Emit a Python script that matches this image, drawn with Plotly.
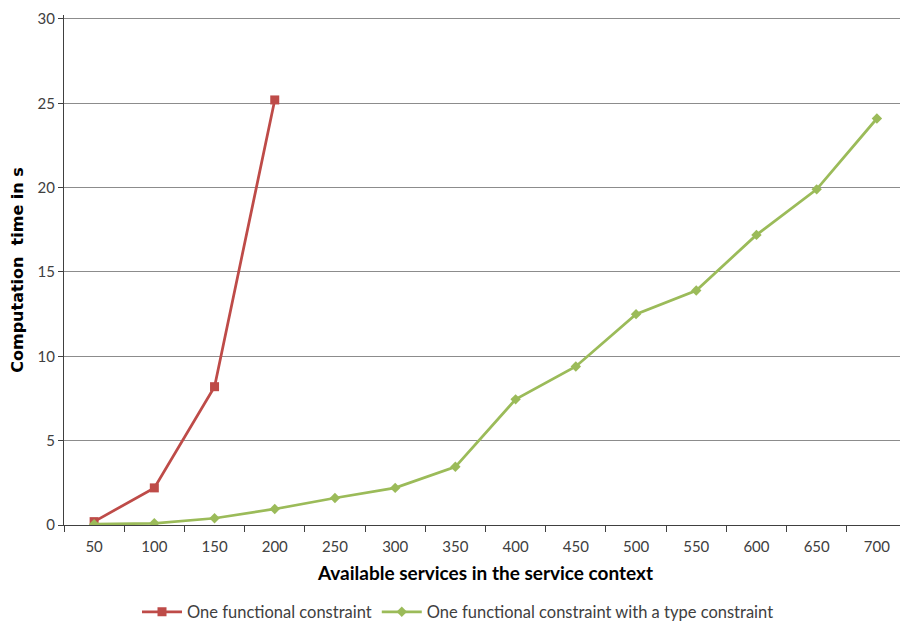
import plotly.graph_objects as go

categories = ["50", "100", "150", "200", "250", "300", "350", "400", "450", "500", "550", "600", "650", "700"]
red_values = [0.2, 2.2, 8.2, 25.2]
green_values = [0.05, 0.1, 0.4, 0.95, 1.6, 2.2, 3.45, 7.45, 9.4, 12.5, 13.9, 17.2, 19.9, 24.1]
red_name = "One functional constraint"
green_name = "One functional constraint with a type constraint"
y_ticks = [0, 5, 10, 15, 20, 25, 30]

FONT = "Lato"

# page body has an 8px margin: figure is 900x617 placed at (8, 8)
fig = go.Figure()
fig.add_trace(go.Scatter(
    x=categories[:len(red_values)], y=red_values, name=red_name,
    mode="lines+markers",
    line=dict(color="#BE4B48", width=2.75),
    marker=dict(symbol="square", size=9, color="#BE4B48"),
))
fig.add_trace(go.Scatter(
    x=categories, y=green_values, name=green_name,
    mode="lines+markers",
    line=dict(color="#9BBB59", width=2.75),
    marker=dict(symbol="diamond", size=8, color="#9BBB59"),
))

fig.update_layout(
    width=900, height=617,
    margin=dict(l=56, r=1, t=2, b=100),
    paper_bgcolor="white", plot_bgcolor="white",
    font=dict(family=FONT, size=15, color="#404040"),
    showlegend=True,
    legend=dict(orientation="h", xref="container", yref="container",
                x=0.5, xanchor="center", y=0.021, yanchor="middle",
                font=dict(family=FONT, size=16.5, color="#404040"),
                itemwidth=40, tracegroupgap=0),
    xaxis=dict(
        type="category", categoryorder="array", categoryarray=categories,
        range=[-0.5, len(categories) - 0.5],
        showgrid=False, showline=True, linecolor="#404040", linewidth=1.2,
        ticks="outside", tickson="boundaries", ticklen=6, tickcolor="#404040",
        ticklabelstandoff=8,
        tickfont=dict(family=FONT, size=15, color="#404040"),
        title=dict(text="<b>Available services in the service context</b>",
                   font=dict(family=FONT, size=19, color="black"), standoff=12),
    ),
    yaxis=dict(
        range=[0, 30.236], tickvals=y_ticks,
        showgrid=True, gridcolor="#8C8C8C", gridwidth=1,
        showline=True, linecolor="#404040", linewidth=1.2,
        ticks="outside", ticklen=5, tickcolor="#404040",
        ticklabeloverflow="allow",
        zeroline=False,
        tickfont=dict(family=FONT, size=15, color="#404040"),
        title=dict(text="<b>Computation\u00a0 time in s</b>",
                   font=dict(family="DejaVu Sans", size=16, color="black"), standoff=12),
    ),
)

fig.write_html("out.html")
